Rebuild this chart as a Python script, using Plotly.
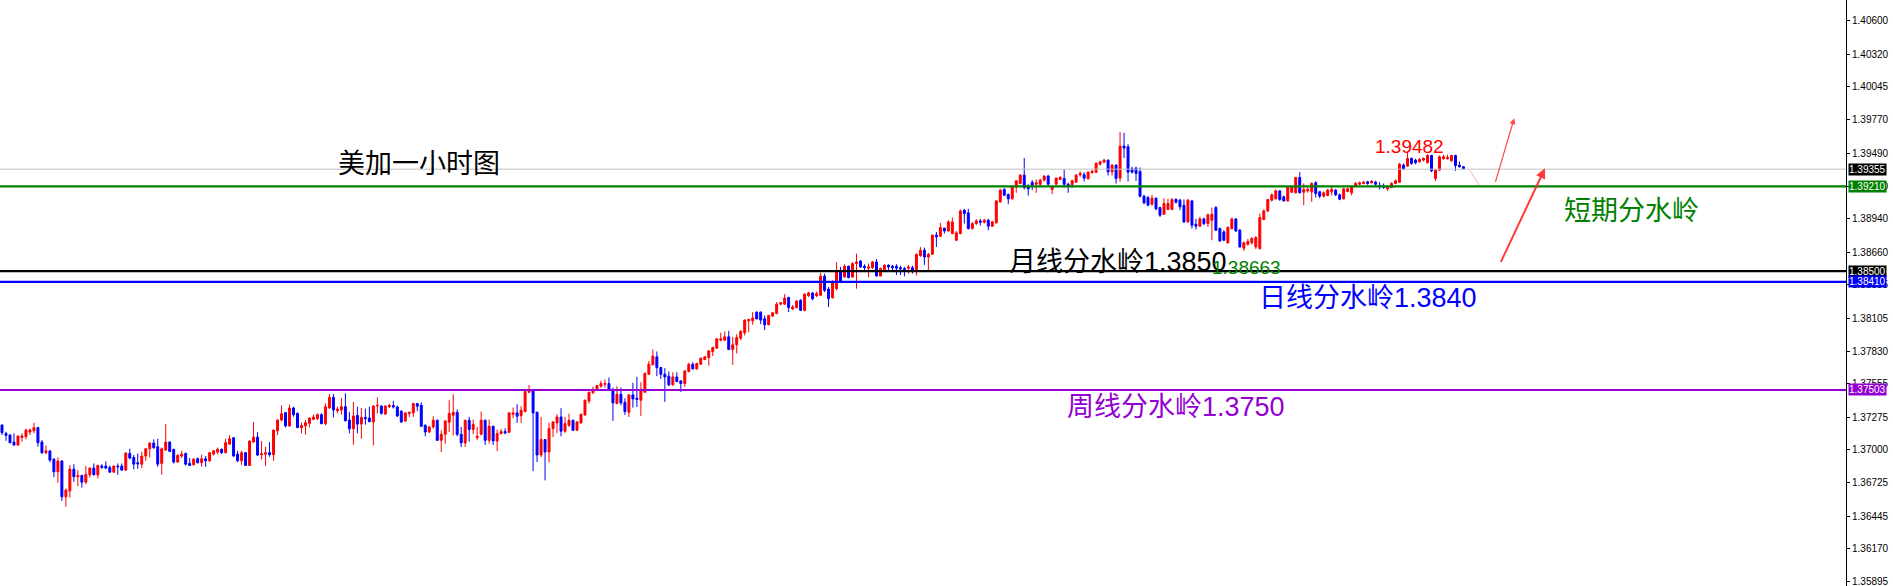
import plotly.graph_objects as go

# ---------------- data (USDCAD 1H candles) ----------------
opens = [
 1.37209,1.37139,1.37125,1.37066,1.37041,1.37105,1.37111,1.37150,1.37161,1.37187,
 1.37066,1.36977,1.36991,1.36923,1.36817,1.36907,1.36607,1.36657,1.36839,1.36775,
 1.36786,1.36730,1.36792,1.36848,1.36792,1.36865,1.36865,1.36853,1.36814,1.36865,
 1.36865,1.36831,1.36971,1.36937,1.36893,1.36881,1.36949,1.37010,1.37058,1.37027,
 1.36887,1.36999,1.37066,1.37005,1.36898,1.36949,1.36971,1.36887,1.36876,1.36926,
 1.36893,1.36926,1.36909,1.36965,1.36982,1.37005,1.36977,1.37049,1.37103,1.36965,
 1.36909,1.36977,1.36870,1.37066,1.37108,1.36960,1.36965,1.36977,1.36960,1.37161,
 1.37251,1.37313,1.37201,1.37352,1.37307,1.37187,1.37203,1.37223,1.37257,1.37262,
 1.37296,1.37220,1.37352,1.37441,1.37329,1.37335,1.37363,1.37251,1.37178,1.37290,
 1.37217,1.37273,1.37268,1.37234,1.37369,1.37369,1.37301,1.37363,
 1.37372,1.37361,1.37325,1.37243,1.37305,1.37311,1.37389,1.37375,1.37207,1.37151,
 1.37193,1.37249,1.37081,1.37131,1.37232,1.37291,1.37316,1.37131,1.37059,1.37249,
 1.37171,1.37103,1.37131,1.37249,1.37081,1.37199,1.37075,1.37137,1.37154,1.37148,
 1.37299,1.37311,1.37288,1.37322,1.37484,1.37501,1.37316,1.36958,1.37087,1.36983,
 1.37179,1.37227,1.37277,1.37157,1.37207,1.37249,1.37165,1.37227,1.37294,1.37411,
 1.37479,1.37507,1.37535,1.37551,1.37557,1.37507,1.37389,1.37467,1.37400,1.37316,
 1.37462,1.37434,1.37417,1.37484,1.37635,1.37714,1.37781,1.37691,1.37635,1.37619,
 1.37546,1.37613,1.37579,1.37557,1.37658,1.37719,1.37680,1.37719,1.37759,1.37775,
 1.37826,1.37854,1.37921,1.37921,1.37949,1.37843,1.37882,1.37938,1.37983,1.38083,
 1.38083,1.38156,1.38156,1.38100,1.38050,1.38123,1.38145,1.38223,1.38223,1.38279,
 1.38182,1.38193,1.38255,1.38171,1.38294,1.38317,1.38294,1.38297,1.38457,1.38350,
 1.38277,1.38353,1.38507,1.38451,1.38541,1.38451,1.38563,1.38585,1.38541,1.38524,
 1.38529,1.38577,1.38459,1.38513,1.38549,1.38541,1.38541,1.38529,1.38521,1.38524,
 1.38529,1.38496,1.38630,1.38675,1.38619,1.38641,1.38801,1.38793,1.38860,1.38837,
 1.38815,1.38759,1.38815,1.39011,1.38989,1.38857,1.38899,1.38921,1.38910,1.38927,
 1.38877,1.38905,1.39081,1.39185,1.39143,1.39106,1.39207,1.39235,1.39305,1.39207,
 1.39246,1.39229,1.39229,1.39263,1.39297,1.39185,1.39229,1.39269,1.39277,1.39229,
 1.39224,1.39246,1.39308,1.39308,1.39274,1.39325,1.39330,1.39397,1.39414,1.39431,
 1.39333,1.39389,1.39280,1.39549,1.39543,1.39358,1.39364,1.39336,1.39129,1.39117,
 1.39061,1.39112,1.39033,1.38977,1.39017,1.39017,1.39101,1.39095,
 1.39053,1.38913,1.39089,1.38893,1.38877,1.38938,1.38899,1.38927,1.39033,1.38857,
 1.38829,1.38737,1.38857,1.38938,1.38843,1.38692,1.38725,1.38737,1.38703,1.38689,
 1.38933,1.39005,1.39095,1.39106,1.39173,1.39123,1.39089,1.39162,1.39157,1.39285,
 1.39162,1.39173,1.39165,1.39241,1.39165,1.39129,1.39134,1.39165,1.39179,1.39140,
 1.39106,1.39168,1.39157,1.39213,1.39229,1.39235,1.39249,1.39241,1.39246,1.39218,
 1.39213,1.39190,1.39201,1.39235,1.39246,1.39389,1.39381,1.39445,1.39431,1.39417,
 1.39431,1.39409,1.39470,1.39277,1.39347,1.39442,1.39442,1.39425,1.39470,1.39389,
 1.39375,
]
highs = [
 1.37215,1.37153,1.37131,1.37139,1.37119,1.37139,1.37178,1.37181,1.37229,1.37195,
 1.37083,1.37038,1.36999,1.36929,1.36937,1.36915,1.36677,1.36873,1.36881,1.36831,
 1.36792,1.36865,1.36853,1.36887,1.36876,1.36881,1.36904,1.36870,1.36870,1.36887,
 1.36887,1.36982,1.37010,1.36957,1.36971,1.36985,1.37016,1.37063,1.37089,1.37094,
 1.37021,1.37217,1.37072,1.37010,1.36965,1.36993,1.36977,1.36932,1.36932,1.36937,
 1.36960,1.36949,1.36982,1.36999,1.37021,1.37013,1.37094,1.37125,1.37105,1.36993,
 1.36993,1.36982,1.37080,1.37234,1.37150,1.37075,1.37027,1.37066,1.37167,1.37257,
 1.37374,1.37318,1.37380,1.37363,1.37313,1.37229,1.37251,1.37273,1.37296,1.37307,
 1.37307,1.37391,1.37469,1.37469,1.37363,1.37436,1.37475,1.37318,1.37402,1.37363,
 1.37352,1.37346,1.37363,1.37374,1.37441,1.37374,1.37374,1.37385,
 1.37411,1.37372,1.37333,1.37316,1.37322,1.37395,1.37395,1.37400,1.37215,1.37199,
 1.37283,1.37255,1.37165,1.37249,1.37417,1.37467,1.37339,1.37193,1.37255,1.37277,
 1.37255,1.37193,1.37322,1.37255,1.37255,1.37204,1.37171,1.37176,1.37182,1.37316,
 1.37355,1.37383,1.37367,1.37501,1.37546,1.37507,1.37322,1.37277,1.37092,1.37227,
 1.37243,1.37299,1.37350,1.37277,1.37305,1.37255,1.37243,1.37305,1.37423,1.37490,
 1.37529,1.37546,1.37579,1.37591,1.37607,1.37523,1.37535,1.37523,1.37434,1.37467,
 1.37563,1.37613,1.37568,1.37652,1.37747,1.37843,1.37826,1.37697,1.37686,1.37658,
 1.37652,1.37652,1.37585,1.37669,1.37731,1.37736,1.37731,1.37775,1.37787,1.37837,
 1.37865,1.37938,1.37983,1.37994,1.37999,1.37949,1.37971,1.38005,1.38095,1.38100,
 1.38156,1.38162,1.38162,1.38128,1.38134,1.38156,1.38240,1.38240,1.38307,1.38285,
 1.38216,1.38255,1.38266,1.38317,1.38328,1.38322,1.38328,1.38485,1.38479,1.38367,
 1.38423,1.38574,1.38535,1.38557,1.38546,1.38574,1.38647,1.38591,1.38557,1.38563,
 1.38585,1.38602,1.38529,1.38557,1.38557,1.38552,1.38557,1.38546,1.38535,1.38552,
 1.38546,1.38647,1.38703,1.38697,1.38653,1.38809,1.38829,1.38905,1.38865,1.38927,
 1.38949,1.38837,1.39017,1.39022,1.39022,1.38910,1.38938,1.38938,1.38938,1.38938,
 1.38921,1.39095,1.39190,1.39196,1.39151,1.39218,1.39263,1.39313,1.39448,1.39229,
 1.39263,1.39269,1.39274,1.39305,1.39308,1.39218,1.39285,1.39297,1.39353,1.39241,
 1.39269,1.39313,1.39336,1.39330,1.39336,1.39353,1.39414,1.39425,1.39442,1.39437,
 1.39397,1.39397,1.39666,1.39661,1.39565,1.39375,1.39375,1.39369,1.39140,1.39129,
 1.39140,1.39117,1.39039,1.39112,1.39106,1.39112,1.39112,1.39106,
 1.39101,1.39106,1.39095,1.38938,1.38955,1.38949,1.38983,1.39033,1.39045,1.38865,
 1.38843,1.38877,1.38949,1.38944,1.38854,1.38748,1.38770,1.38787,1.38793,1.38983,
 1.39017,1.39106,1.39151,1.39185,1.39179,1.39134,1.39213,1.39213,1.39291,1.39330,
 1.39235,1.39207,1.39246,1.39252,1.39173,1.39168,1.39190,1.39207,1.39190,1.39151,
 1.39196,1.39201,1.39218,1.39246,1.39252,1.39257,1.39257,1.39263,1.39257,1.39246,
 1.39235,1.39218,1.39246,1.39269,1.39409,1.39403,1.39493,1.39453,1.39442,1.39448,
 1.39453,1.39481,1.39476,1.39358,1.39470,1.39476,1.39476,1.39476,1.39476,1.39420,
 1.39381,
]
lows = [
 1.37125,1.37077,1.37055,1.37038,1.37035,1.37069,1.37089,1.37125,1.37139,1.37027,
 1.36965,1.36965,1.36898,1.36772,1.36725,1.36573,1.36523,1.36601,1.36733,1.36697,
 1.36685,1.36713,1.36769,1.36786,1.36761,1.36842,1.36837,1.36809,1.36809,1.36792,
 1.36825,1.36825,1.36921,1.36837,1.36842,1.36848,1.36909,1.36937,1.37010,1.36859,
 1.36792,1.36993,1.36982,1.36887,1.36893,1.36932,1.36870,1.36865,1.36870,1.36887,
 1.36859,1.36859,1.36898,1.36954,1.36965,1.36965,1.36971,1.37044,1.36943,1.36898,
 1.36876,1.36865,1.36865,1.37061,1.36949,1.36921,1.36865,1.36943,1.36909,1.37125,
 1.37240,1.37189,1.37195,1.37279,1.37184,1.37139,1.37128,1.37189,1.37251,1.37251,
 1.37217,1.37206,1.37346,1.37273,1.37307,1.37296,1.37240,1.37139,1.37044,1.37139,
 1.37094,1.37212,1.37234,1.37038,1.37307,1.37296,1.37296,1.37352,
 1.37347,1.37277,1.37227,1.37235,1.37277,1.37277,1.37327,1.37193,1.37115,1.37143,
 1.37179,1.37075,1.36983,1.37053,1.37151,1.37123,1.37115,1.37025,1.37025,1.37070,
 1.37131,1.37081,1.37123,1.37042,1.37053,1.37042,1.36991,1.37131,1.37131,1.37143,
 1.37266,1.37227,1.37227,1.37316,1.37479,1.36823,1.36899,1.36941,1.36745,1.36896,
 1.37109,1.37143,1.37115,1.37143,1.37193,1.37159,1.37165,1.37221,1.37288,1.37389,
 1.37473,1.37495,1.37523,1.37523,1.37495,1.37243,1.37383,1.37375,1.37294,1.37277,
 1.37355,1.37361,1.37285,1.37479,1.37629,1.37711,1.37619,1.37596,1.37403,1.37535,
 1.37540,1.37568,1.37487,1.37529,1.37652,1.37675,1.37675,1.37714,1.37753,1.37708,
 1.37787,1.37848,1.37910,1.37915,1.37837,1.37714,1.37809,1.37921,1.37960,1.37988,
 1.38050,1.38095,1.38055,1.38005,1.38047,1.38117,1.38139,1.38215,1.38218,1.38156,
 1.38177,1.38188,1.38165,1.38165,1.38283,1.38255,1.38283,1.38294,1.38325,1.38199,
 1.38269,1.38339,1.38401,1.38445,1.38440,1.38445,1.38353,1.38529,1.38507,1.38451,
 1.38518,1.38457,1.38457,1.38501,1.38496,1.38496,1.38468,1.38468,1.38457,1.38479,
 1.38479,1.38462,1.38619,1.38552,1.38507,1.38636,1.38703,1.38787,1.38815,1.38832,
 1.38809,1.38753,1.38809,1.38899,1.38849,1.38849,1.38888,1.38882,1.38899,1.38843,
 1.38871,1.38899,1.39073,1.39129,1.39061,1.39101,1.39157,1.39229,1.39185,1.39134,
 1.39179,1.39157,1.39207,1.39252,1.39218,1.39145,1.39224,1.39263,1.39201,1.39157,
 1.39201,1.39241,1.39291,1.39252,1.39269,1.39319,1.39325,1.39386,1.39409,1.39302,
 1.39302,1.39235,1.39249,1.39448,1.39252,1.39319,1.39257,1.39117,1.39061,1.39045,
 1.39050,1.39011,1.38955,1.38972,1.39011,1.39011,1.39067,1.39011,
 1.38905,1.38905,1.38857,1.38849,1.38871,1.38885,1.38871,1.38759,1.38837,1.38745,
 1.38753,1.38731,1.38849,1.38829,1.38697,1.38669,1.38714,1.38725,1.38686,1.38681,
 1.38927,1.38994,1.39084,1.39101,1.39089,1.39084,1.39084,1.39157,1.39151,1.39151,
 1.39053,1.39157,1.39081,1.39117,1.39112,1.39117,1.39129,1.39134,1.39129,1.39095,
 1.39101,1.39162,1.39134,1.39207,1.39224,1.39229,1.39224,1.39235,1.39218,1.39185,
 1.39190,1.39173,1.39196,1.39229,1.39241,1.39347,1.39375,1.39392,1.39397,1.39409,
 1.39420,1.39403,1.39330,1.39257,1.39341,1.39437,1.39437,1.39420,1.39341,1.39369,
 1.39353,
]
closes = [
 1.37145,1.37122,1.37061,1.37041,1.37117,1.37117,1.37167,1.37167,1.37187,1.37061,
 1.36977,1.36993,1.36915,1.36817,1.36907,1.36607,1.36663,1.36839,1.36775,1.36786,
 1.36730,1.36795,1.36848,1.36792,1.36870,1.36853,1.36848,1.36814,1.36865,1.36859,
 1.36831,1.36974,1.36932,1.36881,1.36884,1.36949,1.37010,1.37058,1.37019,1.36881,
 1.37010,1.37066,1.36988,1.36898,1.36954,1.36965,1.36881,1.36870,1.36923,1.36893,
 1.36926,1.36909,1.36977,1.36993,1.37005,1.36977,1.37061,1.37094,1.36949,1.36909,
 1.36977,1.36870,1.37075,1.37108,1.36957,1.36968,1.36977,1.36960,1.37167,1.37251,
 1.37304,1.37201,1.37352,1.37296,1.37187,1.37206,1.37229,1.37268,1.37276,1.37296,
 1.37220,1.37363,1.37441,1.37335,1.37343,1.37363,1.37245,1.37178,1.37285,1.37217,
 1.37273,1.37262,1.37237,1.37369,1.37374,1.37307,1.37369,1.37374,
 1.37361,1.37285,1.37235,1.37311,1.37316,1.37389,1.37367,1.37199,1.37151,1.37193,
 1.37249,1.37081,1.37131,1.37243,1.37305,1.37316,1.37131,1.37059,1.37249,1.37171,
 1.37215,1.37115,1.37249,1.37081,1.37199,1.37075,1.37137,1.37154,1.37143,1.37311,
 1.37311,1.37283,1.37333,1.37490,1.37501,1.37311,1.36958,1.37087,1.36983,1.37179,
 1.37235,1.37277,1.37157,1.37221,1.37249,1.37165,1.37235,1.37299,1.37417,1.37484,
 1.37507,1.37540,1.37557,1.37557,1.37512,1.37395,1.37467,1.37395,1.37322,1.37462,
 1.37428,1.37423,1.37495,1.37641,1.37719,1.37787,1.37691,1.37635,1.37613,1.37546,
 1.37613,1.37574,1.37557,1.37663,1.37719,1.37680,1.37725,1.37770,1.37781,1.37831,
 1.37859,1.37932,1.37932,1.37949,1.37843,1.37882,1.37943,1.37994,1.38089,1.38095,
 1.38106,1.38100,1.38089,1.38050,1.38128,1.38151,1.38223,1.38235,1.38274,1.38195,
 1.38199,1.38249,1.38171,1.38305,1.38317,1.38269,1.38311,1.38457,1.38339,1.38269,
 1.38409,1.38493,1.38409,1.38541,1.38445,1.38563,1.38577,1.38535,1.38529,1.38535,
 1.38577,1.38459,1.38521,1.38549,1.38535,1.38529,1.38524,1.38518,1.38513,1.38535,
 1.38501,1.38641,1.38675,1.38619,1.38641,1.38801,1.38787,1.38865,1.38837,1.38913,
 1.38913,1.38821,1.39005,1.38983,1.38857,1.38899,1.38921,1.38910,1.38927,1.38877,
 1.38913,1.39089,1.39179,1.39137,1.39106,1.39207,1.39257,1.39305,1.39201,1.39190,
 1.39221,1.39241,1.39263,1.39297,1.39229,1.39207,1.39280,1.39285,1.39229,1.39213,
 1.39257,1.39305,1.39319,1.39280,1.39330,1.39336,1.39403,1.39417,1.39431,1.39333,
 1.39389,1.39277,1.39549,1.39532,1.39330,1.39330,1.39319,1.39129,1.39073,1.39053,
 1.39112,1.39022,1.38969,1.39067,1.39067,1.39101,1.39078,1.39039,
 1.38913,1.39095,1.38885,1.38877,1.38938,1.38899,1.38972,1.38977,1.38843,1.38753,
 1.38759,1.38865,1.38938,1.38837,1.38703,1.38737,1.38748,1.38773,1.38781,1.38949,
 1.39005,1.39101,1.39140,1.39173,1.39101,1.39089,1.39207,1.39201,1.39285,1.39157,
 1.39185,1.39185,1.39235,1.39151,1.39129,1.39157,1.39179,1.39185,1.39140,1.39103,
 1.39190,1.39190,1.39213,1.39235,1.39241,1.39246,1.39235,1.39252,1.39229,1.39207,
 1.39201,1.39207,1.39235,1.39257,1.39397,1.39358,1.39445,1.39403,1.39409,1.39437,
 1.39445,1.39470,1.39341,1.39347,1.39459,1.39459,1.39453,1.39470,1.39386,1.39375,
 1.39358,
]

tick_vals = [1.40600, 1.40320, 1.40045, 1.39770, 1.39490, 1.39210, 1.38940, 1.38660,
             1.38385, 1.38105, 1.37830, 1.37555, 1.37275, 1.37000, 1.36725, 1.36445,
             1.36170, 1.35895]
tick_text = ["%.5f" % v for v in tick_vals]

# horizontal levels: (price, line colour, label box colour, line width)
level_prices = [1.39355, 1.39210, 1.38500, 1.38410, 1.37503]
level_colors = ["#C0C0C0", "#008000", "#000000", "#0000FF", "#9400D3"]
level_box = ["#000000", "#008000", "#000000", "#0000FF", "#9400D3"]
level_width = [1, 2.2, 2.2, 2.2, 2.2]

if not (len(opens) == len(highs) == len(lows) == len(closes)):
    raise ValueError("length mismatch %d %d %d %d" % (len(opens), len(highs), len(lows), len(closes)))

n = len(opens)
xs = list(range(n))

fig = go.Figure()
fig.add_trace(go.Candlestick(
    x=xs, open=opens, high=highs, low=lows, close=closes,
    increasing=dict(line=dict(color="#FF0000", width=1), fillcolor="#FF0000"),
    decreasing=dict(line=dict(color="#0000FF", width=1), fillcolor="#0000FF"),
    whiskerwidth=0, hoverinfo="skip", showlegend=False,
))

shapes = []
annotations = []
for p, c, bc, w in zip(level_prices, level_colors, level_box, level_width):
    shapes.append(dict(type="line", xref="paper", x0=0, x1=1, yref="y", y0=p, y1=p,
                       line=dict(color=c, width=w), layer="above"))
    annotations.append(dict(xref="paper", x=1, xanchor="left", xshift=2, yref="y", y=p,
                            yanchor="middle", text="%.5f" % p, showarrow=False,
                            font=dict(family="Liberation Sans", size=10, color="white"),
                            bgcolor=bc, borderpad=0))

FONT = "Liberation Sans, Noto Sans CJK SC"
texts = [
    ("美加一小时图", 83.6, 1.39398, "#000000", 27),
    ("短期分水岭", 390.6, 1.39008, "#008000", 27),
    ("月线分水岭1.3850", 251.6, 1.38579, "#000000", 27),
    ("日线分水岭1.3840", 314.2, 1.38272, "#0000FF", 27),
    ("周线分水岭1.3750", 266.2, 1.37363, "#9400D3", 27),
    ("1.38663", 302.5, 1.38534, "#008000", 19),
    ("1.39482", 343.3, 1.39545, "#FF0000", 19),
]
for t, x, y, c, s in texts:
    annotations.append(dict(x=x, y=y, xref="x", yref="y", text=t, showarrow=False,
                            xanchor="left", yanchor="middle",
                            font=dict(family=FONT, size=s, color=c)))

# arrows
annotations.append(dict(x=378.7, y=1.39782, ax=373.9, ay=1.39236, xref="x", yref="y",
                        axref="x", ayref="y", text="", showarrow=True, arrowhead=2,
                        arrowsize=1, arrowwidth=1.2, arrowcolor="rgba(255,40,40,0.85)"))
annotations.append(dict(x=386.4, y=1.39362, ax=375.2, ay=1.38565, xref="x", yref="y",
                        axref="x", ayref="y", text="", showarrow=True, arrowhead=2,
                        arrowsize=1, arrowwidth=2, arrowcolor="rgba(255,40,40,0.9)"))
shapes.append(dict(type="line", xref="x", yref="y", x0=367.6, y0=1.39347, x1=370.1, y1=1.39213,
                   line=dict(color="rgba(255,80,80,0.45)", width=1)))

fig.update_layout(
    width=1893, height=586,
    margin=dict(l=0, r=47, t=0, b=0),
    paper_bgcolor="white", plot_bgcolor="white",
    showlegend=False,
    shapes=shapes, annotations=annotations,
    xaxis=dict(visible=False, range=[-0.5, 461.8], rangeslider=dict(visible=False),
               fixedrange=True),
    yaxis=dict(side="right", range=[1.35859, 1.40774], showgrid=False, zeroline=False,
               showline=True, linecolor="black", linewidth=1, ticks="outside",
               ticklen=3, tickcolor="black", tickvals=tick_vals, ticktext=tick_text,
               ticklabeloverflow="allow",
               tickfont=dict(family="Liberation Sans", size=10, color="black"),
               fixedrange=True),
    hovermode=False,
)

fig.write_html("out.html", config={"displayModeBar": False},
               post_script="document.body.style.margin='0';document.body.style.overflow='hidden';")
